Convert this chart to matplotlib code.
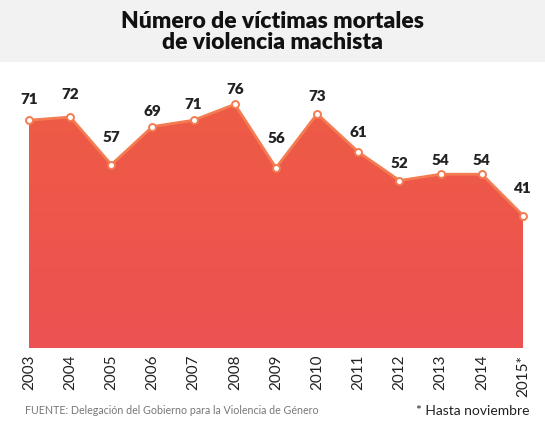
import numpy as np
import matplotlib
matplotlib.use("Agg")
import matplotlib.pyplot as plt
from matplotlib.colors import LinearSegmentedColormap
from matplotlib.patches import Polygon, Rectangle

years = ["2003", "2004", "2005", "2006", "2007", "2008", "2009",
         "2010", "2011", "2012", "2013", "2014", "2015*"]
victims = [71, 72, 57, 69, 71, 76, 56, 73, 61, 52, 54, 54, 41]
label_offsets_px = [21, 23, 27, 15, 16, 15, 29, 17, 19, 17, 14, 14, 27]

title = "Número de víctimas mortales\nde violencia machista"
source = "FUENTE: Delegación del Gobierno para la Violencia de Género"
note = "* Hasta noviembre"

W, H = 545, 434
fig = plt.figure(figsize=(W / 100, H / 100), dpi=100)
fig.patch.set_facecolor("white")

# title band
fig.add_artist(Rectangle((0, 1 - 62 / H), 1, 62 / H, transform=fig.transFigure,
                         facecolor="#f2f2f2", edgecolor="none", zorder=0))
fig.text(0.5, 1 - 32 / H, title, ha="center", va="center", fontsize=16.5,
         fontweight="heavy", family="Lato", color="#111111", linespacing=1.0)

left, right = 29 / W, 523 / W
bottom, top = (H - 348) / H, (H - 70) / H
ax = fig.add_axes([left, bottom, right - left, top - bottom])
x = np.arange(len(years))
ymin, ymax = -0.7, 86.8
ax.set_xlim(0, len(years) - 1)
ax.set_ylim(ymin, ymax)
for s in ax.spines.values():
    s.set_visible(False)
ax.set_yticks([])
ax.set_xticks(x)
ax.set_xticklabels(years, rotation=90, family="Lato", fontsize=11, color="#222222")
ax.tick_params(axis="x", length=0, pad=5)

# gradient fill
cmap = LinearSegmentedColormap.from_list("g", ["#eb5252", "#ee5b45"])
grad = np.linspace(0, 1, 256).reshape(-1, 1)
im = ax.imshow(grad, cmap=cmap, aspect="auto", origin="lower",
               extent=[0, len(years) - 1, ymin, max(victims)], zorder=1)
verts = [(0, ymin)] + list(zip(x, victims)) + [(len(years) - 1, ymin)]
poly = Polygon(verts, closed=True, facecolor="none", edgecolor="none",
               transform=ax.transData)
ax.add_patch(poly)
im.set_clip_path(poly)

ax.plot(x, victims, color="#f47c52", lw=2.0, zorder=3, clip_on=False)
ax.plot(x, victims, ls="none", marker="o", ms=5, mfc="white",
        mec="#f47c52", mew=1.4, zorder=4, clip_on=False)

for xi, v, off in zip(x, victims, label_offsets_px):
    ax.annotate(str(v), (xi, v), xytext=(0, off * 0.72), textcoords="offset points",
                ha="center", va="center", fontsize=11, fontweight="heavy",
                family="Lato", color="#222222", annotation_clip=False)

fig.text(25 / W, 1 - 411 / H, source, ha="left", va="center", fontsize=7.7,
         family="Lato", color="#777777")
fig.text(530 / W, 1 - 411 / H, note, ha="right", va="center", fontsize=10,
         family="Lato", color="#222222")

fig.savefig("out.png", dpi=100, facecolor="white")
